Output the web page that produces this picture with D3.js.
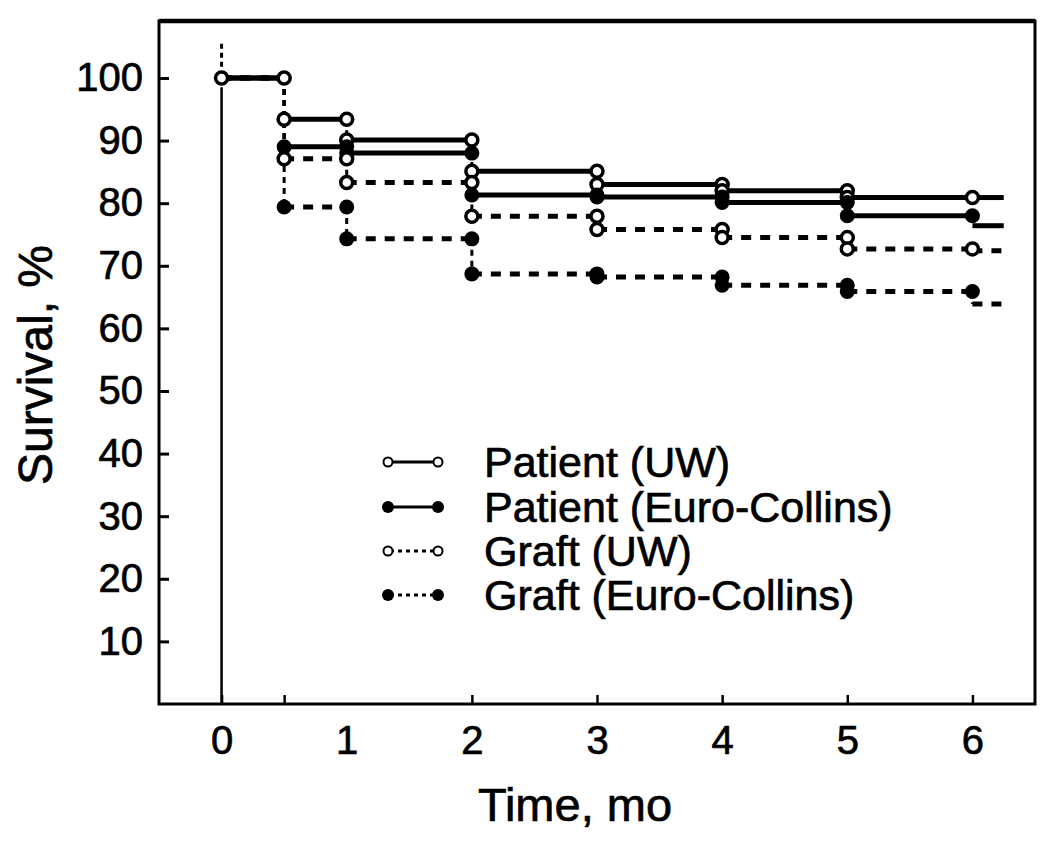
<!DOCTYPE html>
<html>
<head>
<meta charset="utf-8">
<script src="https://cdn.jsdelivr.net/npm/d3@7"></script>
<style>
  body { margin: 0; background: #fff; }
  text { font-family: "Liberation Sans", Arial, sans-serif; fill: #000; }
</style>
</head>
<body>
<div id="chart"></div>
<script>
// step start times (last one is where the tails stop)
const times = [0, 0.5, 1, 2, 3, 4, 5, 6, 6.25];

// survival % on each interval [times[k], times[k+1])
const patientUW = [100, 93.4, 90.1, 85.1, 83.0, 82.0, 80.9, 80.9];
const patientEC = [100, 89.0, 88.0, 81.3, 81.0, 80.1, 78.0, 76.4];
const graftUW   = [100, 87.1, 83.3, 77.9, 75.8, 74.5, 72.7, 72.4];
const graftEC   = [100, 79.4, 74.3, 68.7, 68.2, 66.9, 65.9, 63.9];

const seriesNames = ['Patient (UW)', 'Patient (Euro-Collins)', 'Graft (UW)', 'Graft (Euro-Collins)'];

const yTicks = [10, 20, 30, 40, 50, 60, 70, 80, 90, 100];
const xTickMarks = [0, 0.5, 2, 3, 4, 5, 6];
const xLabels = [0, 1, 2, 3, 4, 5, 6];

const series = [
    { name: seriesNames[0], values: patientUW, filled: false, dashed: false },
    { name: seriesNames[1], values: patientEC, filled: true,  dashed: false },
    { name: seriesNames[2], values: graftUW,   filled: false, dashed: true },
    { name: seriesNames[3], values: graftEC,   filled: true,  dashed: true }
];

const width = 1050, height = 842;
const plotLeft = 159, plotRight = 1035, plotTop = 21, plotBottom = 704;

const svg = d3.select('#chart').append('svg')
    .attr('width', width)
    .attr('height', height);

const x = d3.scaleLinear().domain([-0.5, 6.5]).range([plotLeft, plotRight]);
const y = d3.scaleLinear().domain([0, 109.1]).range([plotBottom, plotTop]);

//Frame
svg.append('rect')
    .attr('x', plotLeft).attr('y', plotTop)
    .attr('width', plotRight - plotLeft).attr('height', plotBottom - plotTop)
    .attr('fill', 'none').attr('stroke', '#000').attr('stroke-width', 3);
svg.append('line')
    .attr('x1', plotLeft).attr('x2', plotRight).attr('y1', plotTop).attr('y2', plotTop)
    .attr('stroke', '#000').attr('stroke-width', 4.5);

//Y axis: inward ticks and labels
const yAxis = svg.append('g')
    .attr('transform', `translate(${plotLeft},0)`)
    .call(d3.axisRight(y).tickValues(yTicks).tickSize(10).tickFormat(''));
yAxis.select('.domain').remove();
yAxis.selectAll('line').attr('stroke-width', 3);

const yLab = svg.append('g')
    .attr('transform', `translate(${plotLeft},0)`)
    .call(d3.axisLeft(y).tickValues(yTicks).tickSize(0).tickPadding(16).tickFormat(d3.format('d')));
yLab.select('.domain').remove();
yLab.selectAll('text')
    .attr('font-size', 40)
    .attr('font-family', '"Liberation Sans", Arial, sans-serif')
    .attr('fill', '#000')
    .attr('stroke', '#000').attr('stroke-width', 0.7);

//X axis: inward ticks at the marks, labels at each month
const xAxis = svg.append('g')
    .attr('transform', `translate(0,${plotBottom})`)
    .call(d3.axisTop(x).tickValues(xTickMarks).tickSize(9).tickFormat(''));
xAxis.select('.domain').remove();
xAxis.selectAll('line').attr('stroke-width', 2.5);

const xLab = svg.append('g')
    .attr('transform', `translate(0,${plotBottom})`)
    .call(d3.axisBottom(x).tickValues(xLabels).tickSize(0).tickPadding(22).tickFormat(d3.format('d')));
xLab.select('.domain').remove();
xLab.selectAll('text')
    .attr('font-size', 40)
    .attr('font-family', '"Liberation Sans", Arial, sans-serif')
    .attr('fill', '#000')
    .attr('stroke', '#000').attr('stroke-width', 0.7);

//Axis titles
svg.append('text')
    .attr('x', 575).attr('y', 821)
    .attr('text-anchor', 'middle')
    .attr('font-size', 47)
    .attr('stroke', '#000').attr('stroke-width', 0.7)
    .text('Time, mo');

svg.append('text')
    .attr('transform', `translate(52,365) rotate(-90)`)
    .attr('text-anchor', 'middle')
    .attr('font-size', 48)
    .attr('stroke', '#000').attr('stroke-width', 0.7)
    .text('Survival, %');

//Vertical line at time 0
svg.append('line')
    .attr('x1', x(0)).attr('x2', x(0))
    .attr('y1', y(0)).attr('y2', y(98.5))
    .attr('stroke', '#000').attr('stroke-width', 2.5);
svg.append('line')
    .attr('x1', x(0)).attr('x2', x(0))
    .attr('y1', y(101.8)).attr('y2', y(105.6))
    .attr('stroke', '#000').attr('stroke-width', 3)
    .attr('stroke-dasharray', '5,4');

//Curves
const plot = svg.append('g');

series.forEach(function (s) {
    const g = plot.append('g');

    // vertical connectors at each drop
    for (let k = 1; k < s.values.length; k++) {
        g.append('line')
            .attr('x1', x(times[k])).attr('x2', x(times[k]))
            .attr('y1', y(s.values[k - 1])).attr('y2', y(s.values[k]))
            .attr('stroke', '#000').attr('stroke-width', 3)
            .attr('stroke-dasharray', '6,5');
    }

    // horizontal steps
    s.values.forEach(function (v, k) {
        g.append('line')
            .attr('x1', x(times[k])).attr('x2', x(times[k + 1]))
            .attr('y1', y(v)).attr('y2', y(v))
            .attr('stroke', '#000').attr('stroke-width', 5)
            .attr('stroke-dasharray', s.dashed ? '10,9' : null);
    });
});

// markers at both ends of every step; the shared 100% start is drawn once, open
series.forEach(function (s, i) {
    const pts = [];
    for (let k = (i === 0 ? 0 : 1); k < s.values.length - 1; k++) {
        pts.push([times[k], s.values[k]]);
        pts.push([times[k + 1], s.values[k]]);
    }
    plot.append('g').selectAll('circle')
        .data(pts)
        .enter().append('circle')
        .attr('cx', d => x(d[0]))
        .attr('cy', d => y(d[1]))
        .attr('r', s.filled ? 7.5 : 6)
        .attr('fill', s.filled ? '#000' : '#fff')
        .attr('stroke', '#000')
        .attr('stroke-width', s.filled ? 0 : 3.5);
});

//Legend
const legendY = [462, 507, 551, 595];
const legend = svg.append('g');
series.forEach(function (s, i) {
    const ly = legendY[i];
    legend.append('line')
        .attr('x1', 390).attr('x2', 436)
        .attr('y1', ly).attr('y2', ly)
        .attr('stroke', '#000').attr('stroke-width', 3)
        .attr('stroke-dasharray', s.dashed ? '4,4' : null);
    [388, 438].forEach(function (cx) {
        legend.append('circle')
            .attr('cx', cx).attr('cy', ly)
            .attr('r', s.filled ? 6 : 4.5)
            .attr('fill', s.filled ? '#000' : '#fff')
            .attr('stroke', '#000')
            .attr('stroke-width', s.filled ? 0 : 2);
    });
    legend.append('text')
        .attr('x', 484).attr('y', ly + 15)
        .attr('font-size', 43)
        .attr('stroke', '#000').attr('stroke-width', 0.7)
        .text(s.name);
});
</script>
</body>
</html>
